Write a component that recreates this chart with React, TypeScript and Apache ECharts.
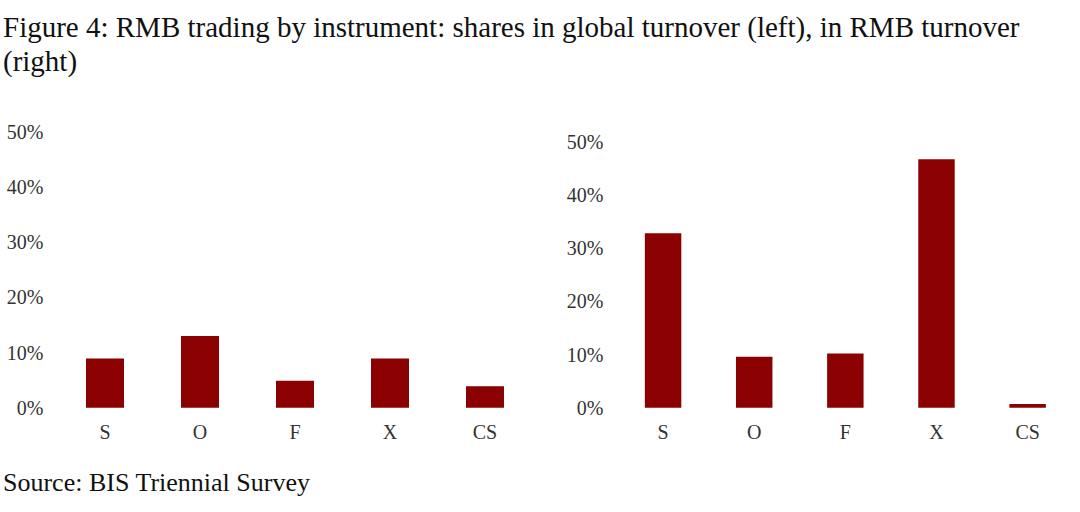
import React, { useEffect, useRef } from "react";
import * as echarts from "echarts";

const categories = ["S", "O", "F", "X", "CS"];
const globalShares = [8.9, 13.0, 4.9, 8.9, 3.9];
const rmbShares = [32.8, 9.6, 10.2, 46.7, 0.7];
const titleText =
  "Figure 4: RMB trading by instrument: shares in global turnover (left), in RMB turnover\n(right)";
const sourceText = "Source: BIS Triennial Survey";

const FONT = "'Liberation Serif', 'Times New Roman', serif";
const BAR = "#8b0000";
const LABEL = "#333333";

export default function App() {
  const ref = useRef<HTMLDivElement>(null);
  useEffect(() => {
    if (!ref.current) return;
    const chart = echarts.init(ref.current, undefined, { renderer: "svg" });
    const yAxisBase = {
      type: "value",
      min: 0,
      max: 50,
      interval: 10,
      axisLine: { show: false },
      axisTick: { show: false },
      splitLine: { show: false },
      axisLabel: {
        formatter: "{value}%",
        fontFamily: FONT,
        fontSize: 20,
        color: LABEL,
        margin: 14,
      },
    };
    const xAxisBase = {
      type: "category",
      data: categories,
      axisLine: { show: false },
      axisTick: { show: false },
      axisLabel: {
        fontFamily: FONT,
        fontSize: 20,
        color: LABEL,
        margin: 14,
      },
    };
    chart.setOption({
      animation: false,
      backgroundColor: "#ffffff",
      title: [
        {
          text: titleText,
          left: 3,
          top: 10,
          padding: 0,
          textStyle: {
            fontFamily: FONT,
            fontSize: 29,
            fontWeight: "normal",
            color: "#111111",
            lineHeight: 34,
          },
        },
        {
          text: sourceText,
          left: 3,
          top: 469,
          padding: 0,
          textStyle: {
            fontFamily: FONT,
            fontSize: 26,
            fontWeight: "normal",
            color: "#111111",
          },
        },
      ],
      grid: [
        { left: 57.5, top: 131.7, width: 475, height: 276 },
        { left: 617.5, top: 141.7, width: 455.7, height: 266 },
      ],
      xAxis: [
        { ...xAxisBase, gridIndex: 0 },
        { ...xAxisBase, gridIndex: 1 },
      ],
      yAxis: [
        { ...yAxisBase, gridIndex: 0 },
        { ...yAxisBase, gridIndex: 1 },
      ],
      series: [
        {
          type: "bar",
          xAxisIndex: 0,
          yAxisIndex: 0,
          data: globalShares,
          barWidth: "40%",
          itemStyle: { color: BAR },
        },
        {
          type: "bar",
          xAxisIndex: 1,
          yAxisIndex: 1,
          data: rmbShares,
          barWidth: "40%",
          itemStyle: { color: BAR },
        },
      ],
    });
    return () => chart.dispose();
  }, []);
  return (
    <div
      ref={ref}
      style={{ position: "fixed", left: 0, top: 0, width: 1080, height: 512 }}
    />
  );
}
